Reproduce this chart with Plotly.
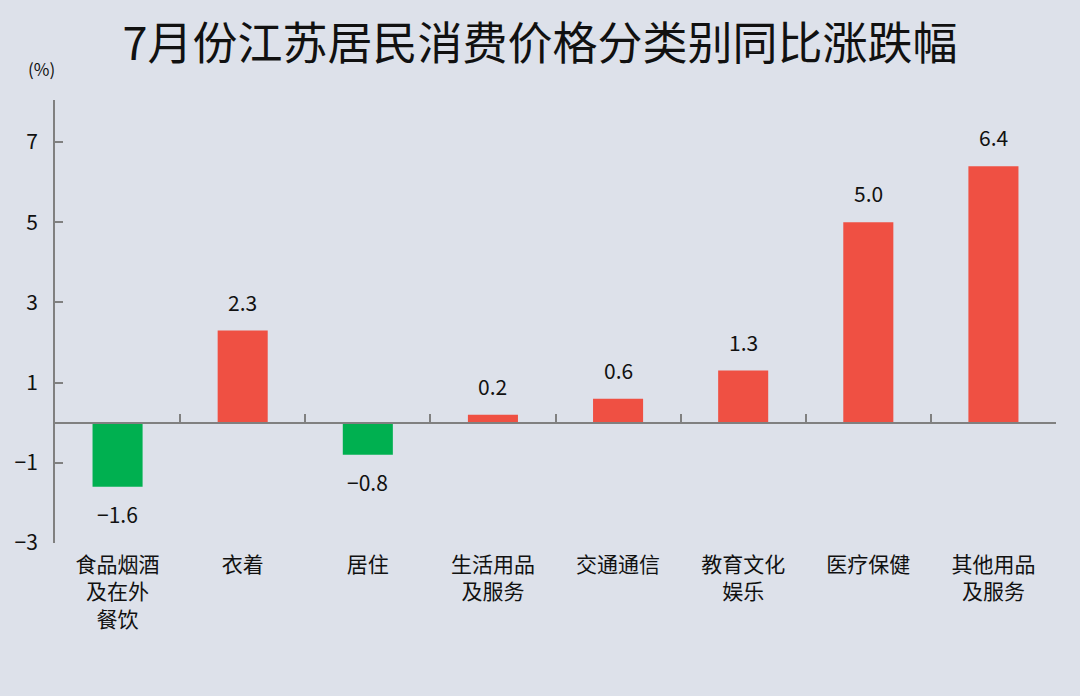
import plotly.graph_objects as go

# 7月份江苏居民消费价格分类别同比涨跌幅
categories = ["食品烟酒<br>及在外<br>餐饮", "衣着", "居住", "生活用品<br>及服务",
              "交通通信", "教育文化<br>娱乐", "医疗保健", "其他用品<br>及服务"]
values = [-1.6, 2.3, -0.8, 0.2, 0.6, 1.3, 5.0, 6.4]
y_ticks = [-3, -1, 1, 3, 5, 7]

RED = '#ef5043'
GREEN = '#00b050'
AXIS = '#808080'
BG = '#dde1ea'
FONT = 'Noto Sans CJK SC'

Y_RANGE = [-3, 8.05]
zero_pos = (0 - Y_RANGE[0]) / (Y_RANGE[1] - Y_RANGE[0])

colors = [RED if v >= 0 else GREEN for v in values]

fig = go.Figure()
fig.add_trace(go.Bar(
    x=categories, y=values, marker_color=colors, marker_line_width=0,
    hoverinfo='skip',
))
# invisible trace to carry the zero-axis with boundary ticks
fig.add_trace(go.Scatter(
    x=categories, y=[0] * len(categories), xaxis='x2', mode='markers',
    marker=dict(opacity=0), showlegend=False, hoverinfo='skip',
))

# value labels
for c, v in zip(categories, values):
    fig.add_annotation(
        x=c, y=v, text=f"{v:.1f}".replace('-', '−'), showarrow=False,
        yanchor='bottom' if v >= 0 else 'top',
        yshift=12 if v >= 0 else -10,
        font=dict(family=FONT, size=21, color='#111'),
    )

fig.add_annotation(
    xref='paper', yref='paper', x=-0.013, y=1.072, text='(%)',
    xanchor='center', yanchor='middle', showarrow=False,
    font=dict(family=FONT, size=17, color='#111'),
)

fig.update_layout(
    width=1080, height=696,
    paper_bgcolor=BG, plot_bgcolor=BG,
    margin=dict(l=55, r=24, t=100, b=153),
    showlegend=False,
    bargap=0.6,
    title=dict(text='7月份江苏居民消费价格分类别同比涨跌幅', x=0.5, xref='container',
               y=1 - 44 / 696, yanchor='middle', xanchor='center',
               font=dict(family=FONT, size=45, color='#111')),
    xaxis=dict(type='category', showline=False, ticks='', showgrid=False,
               zeroline=False, ticklabelstandoff=7,
               tickfont=dict(family=FONT, size=21, color='#111')),
    xaxis2=dict(type='category', overlaying='x', matches='x', anchor='free',
                position=zero_pos, side='bottom', showline=True,
                linecolor=AXIS, linewidth=2, ticks='inside',
                tickson='boundaries', ticklen=8, tickcolor=AXIS, tickwidth=1.5,
                showticklabels=False, showgrid=False, zeroline=False),
    yaxis=dict(range=Y_RANGE, tickvals=y_ticks, showline=True, linecolor=AXIS,
               linewidth=2, ticks='inside', ticklen=8, tickcolor=AXIS,
               tickwidth=1.5, showgrid=False, zeroline=False,
               ticklabelstandoff=11,
               tickfont=dict(family=FONT, size=21, color='#111')),
)

fig.write_html("out.html", config={'displayModeBar': False},
               post_script="document.body.style.margin='0';"
                           "document.body.style.background='" + BG + "';")
